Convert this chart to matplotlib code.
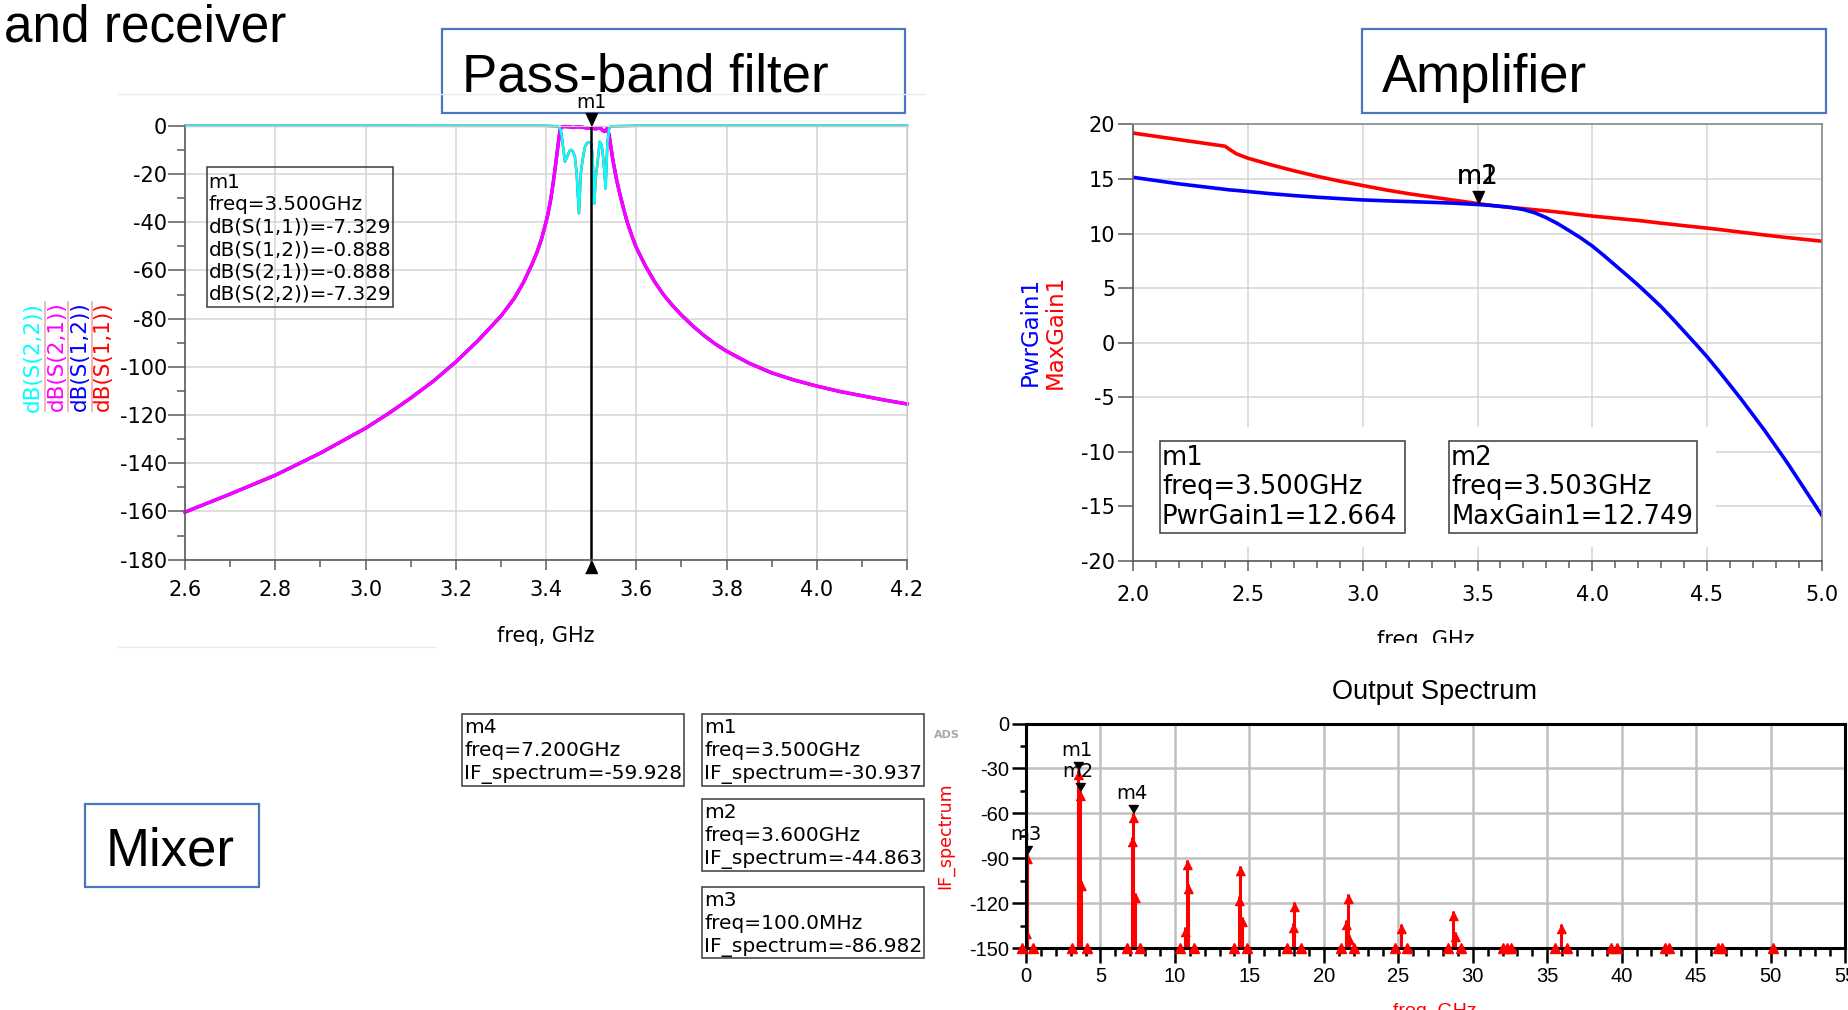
import numpy as np
import matplotlib.pyplot as plt
from matplotlib.patches import Rectangle
from matplotlib.ticker import MultipleLocator

plt.rcParams['axes.unicode_minus'] = False
plt.rcParams['font.family'] = ['DejaVu Sans']

W, H = 1848, 1010
PPT_FONT = ['Liberation Sans', 'DejaVu Sans']

# ---------------- pass-band filter: S-parameters in dB vs freq (GHz)
s21_freq = [2.6, 2.7, 2.8, 2.9, 3.0, 3.05, 3.1, 3.15, 3.2, 3.25, 3.3, 3.33, 3.35, 3.37,
            3.38, 3.39, 3.4, 3.405, 3.41, 3.415, 3.42, 3.424, 3.428, 3.431, 3.434,
            3.44, 3.45, 3.46, 3.47, 3.48, 3.49, 3.5, 3.51, 3.52, 3.525, 3.53, 3.536,
            3.54, 3.544, 3.548, 3.552, 3.556, 3.562, 3.57, 3.58, 3.59, 3.6, 3.62, 3.64,
            3.66, 3.68, 3.7, 3.725, 3.75, 3.775, 3.8, 3.85, 3.9, 3.95, 4.0, 4.05, 4.1,
            4.15, 4.2]
s21_db = [-160.3, -152.8, -145.0, -135.8, -125.5, -119.5, -113.0, -106.0, -98.0, -89.0,
          -79.0, -71.5, -65.0, -57.0, -52.5, -47.0, -40.0, -36.0, -31.0, -25.0, -18.0,
          -12.0, -6.0, -2.0, -0.6, -0.3, -0.4, -0.7, -0.4, -0.6, -0.9, -0.888, -1.3,
          -0.7, -1.8, -2.4, -1.0, -4.0, -9.0, -14.0, -18.0, -22.0, -27.0, -33.0, -40.0,
          -45.5, -50.5, -58.0, -64.5, -70.0, -74.5, -78.5, -83.0, -87.0, -90.5, -93.5,
          -98.5, -102.5, -105.5, -108.0, -110.2, -112.0, -113.8, -115.4]
s12_db = list(s21_db)

s11_freq = [2.6, 3.0, 3.4, 3.425, 3.431, 3.434, 3.438, 3.442, 3.447, 3.452, 3.456, 3.46,
            3.464, 3.468, 3.473, 3.477, 3.481, 3.486, 3.49, 3.495, 3.5, 3.503, 3.507,
            3.51, 3.514, 3.519, 3.522, 3.525, 3.529, 3.532, 3.536, 3.54, 3.545, 3.6, 4.2]
s11_db = [0.0, 0.0, -0.02, -0.2, -1.0, -3.1, -9.0, -14.9, -12.8, -10.5, -10.0, -10.8,
          -12.8, -20.0, -36.3, -20.0, -14.2, -9.0, -7.3, -6.8, -7.329, -12.0, -32.2,
          -22.0, -15.6, -6.6, -7.5, -10.0, -18.0, -26.0, -7.3, -1.0, -0.2, 0.0, 0.0]
s22_db = list(s11_db)

filt_labels = ['dB(S(2,2))', 'dB(S(2,1))', 'dB(S(1,2))', 'dB(S(1,1))']
filt_colors = ['#00ffff', '#ff00ff', '#0000ff', '#ff0000']
filt_m1_freq = 3.5
filt_m1_vals = [('dB(S(1,1))', -7.329), ('dB(S(1,2))', -0.888),
                ('dB(S(2,1))', -0.888), ('dB(S(2,2))', -7.329)]

# ---------------- amplifier gains vs freq (GHz)
amp_freq = [2.0, 2.1, 2.2, 2.3, 2.4, 2.42, 2.45, 2.5, 2.6, 2.7, 2.8, 2.9, 3.0, 3.1, 3.2,
            3.3, 3.4, 3.5, 3.55, 3.6, 3.65, 3.7, 3.75, 3.8, 3.85, 3.9, 3.95, 4.0, 4.05,
            4.1, 4.15, 4.2, 4.25, 4.3, 4.35, 4.4, 4.45, 4.5, 4.55, 4.6, 4.65, 4.7, 4.75,
            4.8, 4.85, 4.9, 4.95, 5.0]
max_gain = [19.2, 18.9, 18.6, 18.3, 18.0, 17.7, 17.3, 16.9, 16.3, 15.75, 15.25, 14.8,
            14.4, 14.0, 13.65, 13.35, 13.05, 12.75, 12.61, 12.48, 12.38, 12.28, 12.18,
            12.08, 11.97, 11.85, 11.72, 11.6, 11.5, 11.4, 11.3, 11.2, 11.08, 10.95,
            10.84, 10.72, 10.61, 10.5, 10.38, 10.25, 10.12, 10.0, 9.87, 9.75, 9.63,
            9.52, 9.41, 9.3]
pwr_gain = [15.15, 14.85, 14.55, 14.3, 14.05, 14.0, 13.95, 13.85, 13.65, 13.48, 13.33,
            13.2, 13.08, 13.0, 12.93, 12.86, 12.78, 12.66, 12.59, 12.5, 12.38, 12.2,
            11.9, 11.45, 10.9, 10.26, 9.6, 8.86, 8.0, 7.1, 6.2, 5.28, 4.3, 3.3, 2.2,
            1.05, -0.1, -1.28, -2.55, -3.87, -5.2, -6.6, -8.0, -9.5, -11.0, -12.6,
            -14.2, -15.8]
amp_m1 = ('m1', 3.500, 'PwrGain1', 12.664)
amp_m2 = ('m2', 3.503, 'MaxGain1', 12.749)

# ---------------- mixer output spectrum (GHz, dB)
tone_freq = [0.0, 0.1, 3.5, 3.6, 3.7, 7.1, 7.2, 7.3, 10.7, 10.8, 10.9, 14.3, 14.4,
             14.5, 17.9, 18.0, 21.5, 21.6, 21.7, 25.2, 28.7, 28.8, 35.9]
tone_level = [-137, -86.982, -30.937, -44.863, -105, -76, -59.928, -113, -136, -91,
              -107, -115, -95, -129, -133, -119, -131, -114, -141, -134, -125, -139, -134]
floor_freq = [-0.25, 0.45, 3.1, 4.1, 6.75, 7.65, 10.35, 11.25, 13.95, 14.85, 17.55,
              18.45, 21.15, 22.05, 24.8, 25.6, 28.35, 29.2, 32.0, 32.3, 32.6, 35.5,
              36.3, 39.3, 39.7, 42.9, 43.2, 46.5, 46.75, 50.15]
spec_markers = [('m4', 7.2, -59.928), ('m1', 3.5, -30.937),
                ('m2', 3.6, -44.863), ('m3', 0.1, -86.982)]

TRI_DOWN = [(-0.5, 1.1), (0.5, 1.1), (0, 0)]
TRI_UP = [(-0.5, -1.1), (0.5, -1.1), (0, 0)]
SPEC_DOWN = [(-0.6, 1.0), (0.6, 1.0), (0, 0)]
ARROW_UP = [(-0.5, -1.0), (0.5, -1.0), (0, 0)]


def rect(x0, y0, x1, y1):
    return [x0 / W, 1 - y1 / H, (x1 - x0) / W, (y1 - y0) / H]


def freq_text(f):
    if f < 1:
        return f'freq={f * 1000:.1f}MHz'
    return f'freq={f:.3f}GHz'


fig = plt.figure(figsize=(W / 100, H / 100), dpi=100)
bg = fig.add_axes([0, 0, 1, 1], zorder=-1)
ov = fig.add_axes([0, 0, 1, 1], zorder=5)
for a in (bg, ov):
    a.set_xlim(0, W)
    a.set_ylim(H, 0)
    a.axis('off')


def readout(x0, y0, x1, y1, lines, base0, step, size, fc='none'):
    ov.add_patch(Rectangle((x0, y0), x1 - x0, y1 - y0, facecolor=fc,
                           edgecolor='#3a3a3a', lw=1.1))
    for i, s in enumerate(lines):
        ov.text(x0 + 2, base0 + i * step, s, fontsize=size, va='baseline', ha='left')


# ---- slide decorations
bg.text(4, 41, 'and receiver', fontsize=37, family=PPT_FONT, va='baseline')
for x0, x1, y0, y1, txt, tx, ty in [(442, 905, 29, 113, 'Pass-band filter', 462, 92),
                                    (1362, 1826, 29, 113, 'Amplifier', 1382, 92),
                                    (85, 259, 804, 887, 'Mixer', 106, 866)]:
    bg.add_patch(Rectangle((x0, y0), x1 - x0, y1 - y0, facecolor='white',
                           edgecolor='#4a76c0', lw=1.6))
    bg.text(tx, ty, txt, fontsize=38, family=PPT_FONT, va='baseline')
bg.plot([118, 925], [94, 94], color='#ececec', lw=1)
bg.plot([118, 436], [647, 647], color='#ececec', lw=1)

# ---- filter plot
ax1 = fig.add_axes(rect(185, 125.8, 907, 559.6))
ax1.plot(s11_freq, s11_db, color=filt_colors[3], lw=1.8, clip_on=False)
ax1.plot(s21_freq, s12_db, color=filt_colors[2], lw=2.4, clip_on=False)
ax1.plot(s21_freq, s21_db, color=filt_colors[1], lw=2.4, clip_on=False)
ax1.plot(s11_freq, s22_db, color=filt_colors[0], lw=1.8, clip_on=False)
ax1.plot([filt_m1_freq, filt_m1_freq], [-180, 0], color='black', lw=1.8)
ax1.plot(filt_m1_freq, 0, marker=TRI_DOWN, ms=18.7, color='black', ls='none', clip_on=False)
ax1.plot(filt_m1_freq, -180, marker=TRI_UP, ms=18.7, color='black', ls='none', clip_on=False)
ax1.annotate('m1', (filt_m1_freq, 0), xytext=(0, 13), textcoords='offset points',
             ha='center', va='baseline', fontsize=13.5, annotation_clip=False)
ax1.set_xlim(2.6, 4.2)
ax1.set_ylim(-180, 0)
ax1.xaxis.set_major_locator(MultipleLocator(0.2))
ax1.xaxis.set_minor_locator(MultipleLocator(0.1))
ax1.yaxis.set_major_locator(MultipleLocator(20))
ax1.yaxis.set_minor_locator(MultipleLocator(10))
ax1.grid(True, which='major', color='#d4d4d4', lw=1.1)
ax1.set_axisbelow(True)
for sp in ax1.spines.values():
    sp.set_color('#c8c8c8')
for sp in ('left', 'bottom'):
    ax1.spines[sp].set_color('#5a5a5a')
    ax1.spines[sp].set_linewidth(1.2)
ax1.tick_params(which='both', direction='out', color='#5a5a5a', width=1.1, labelsize=15)
ax1.tick_params(axis='y', which='major', length=12, pad=1.0)
ax1.tick_params(axis='y', which='minor', length=6)
ax1.tick_params(axis='x', which='major', length=7, pad=8)
ax1.tick_params(axis='x', which='minor', length=5)

readout(206.7, 167.3, 393.3, 307.3,
        ['m1', freq_text(filt_m1_freq)] + [f'{n}={v:.3f}' for n, v in filt_m1_vals],
        187.5, 22.5, 14.3)
for i, (lab, col) in enumerate(zip(filt_labels, filt_colors)):
    ov.text(33.3 + 23.3 * i, 356.6, lab, rotation=90, color=col, fontsize=15.5,
            ha='center', va='center')
    if i < 3:
        ov.plot([45 + 23.3 * i] * 2, [302, 411], color='#f3a0a0', lw=1.1)
ov.text(546, 642, 'freq, GHz', fontsize=15, ha='center', va='baseline')

# ---- amplifier plot
ax2 = fig.add_axes(rect(1133.3, 124.4, 1821.7, 561))
ax2.add_patch(Rectangle((2.0, -18.7), 2.54, 11.0, facecolor='white', edgecolor='none', zorder=1))
ax2.plot(amp_freq, max_gain, color='#ff0000', lw=2.6)
ax2.plot(amp_freq, pwr_gain, color='#0000ff', lw=2.6)
ax2.plot(amp_m1[1], amp_m1[3], marker=TRI_DOWN, ms=18.7, color='black', ls='none')
for m in (amp_m1, amp_m2):
    ax2.annotate(m[0], (amp_m1[1], amp_m1[3]), xytext=(0, 15), textcoords='offset points',
                 ha='center', va='baseline', fontsize=18.5)
ax2.set_xlim(2.0, 5.0)
ax2.set_ylim(-20, 20)
ax2.xaxis.set_major_locator(MultipleLocator(0.5))
ax2.xaxis.set_minor_locator(MultipleLocator(0.1))
ax2.yaxis.set_major_locator(MultipleLocator(5))
ax2.grid(True, which='major', color='#d4d4d4', lw=1.1)
ax2.set_axisbelow(True)
for sp in ax2.spines.values():
    sp.set_color('#8a8a8a')
    sp.set_linewidth(1.2)
for sp in ('left', 'bottom'):
    ax2.spines[sp].set_color('#5a5a5a')
ax2.tick_params(which='both', direction='out', color='#5a5a5a', width=1.1, labelsize=15)
ax2.tick_params(axis='y', which='major', length=11, pad=2)
ax2.tick_params(axis='x', which='major', length=7, pad=10)
ax2.tick_params(axis='x', which='minor', length=5)

for m, (x0, x1) in zip((amp_m1, amp_m2), ((1160, 1405), (1449, 1697))):
    readout(x0, 441, x1, 533, [m[0], freq_text(m[1]), f'{m[2]}={m[3]:.3f}'],
            465, 29.5, 18.6, fc='white')
ov.text(1030, 331, 'PwrGain1', rotation=90, color='#0000ff', fontsize=16.5,
        ha='center', va='center')
ov.text(1055, 332, 'MaxGain1', rotation=90, color='#ff0000', fontsize=16.5,
        ha='center', va='center')
ov.text(1426, 646, 'freq, GHz', fontsize=15, ha='center', va='baseline')
ov.add_patch(Rectangle((1300, 643), 260, 26, facecolor='white', edgecolor='none', zorder=6))

# ---- mixer spectrum
ax3 = fig.add_axes(rect(1026, 723.5, 1845, 948.3))
ax3.vlines(tone_freq, -150, tone_level, color='#ff0000', lw=2.2)
ax3.plot(tone_freq, tone_level, ls='none', marker=ARROW_UP, ms=13, color='#ff0000')
ax3.plot(floor_freq, [-150] * len(floor_freq), ls='none', marker='^', ms=6.5,
         color='#ff0000', clip_on=False, zorder=3)
for name, f, v in spec_markers:
    ax3.plot(f, v, marker=SPEC_DOWN, ms=11.5, color='black', ls='none', zorder=4)
    ax3.annotate(name, (f, v), xytext=(-1, 10.2), textcoords='offset points',
                 ha='center', va='baseline', fontsize=14, annotation_clip=False)
ax3.set_xlim(0, 55)
ax3.set_ylim(-150, 0)
ax3.xaxis.set_major_locator(MultipleLocator(5))
ax3.xaxis.set_minor_locator(MultipleLocator(1))
ax3.yaxis.set_major_locator(MultipleLocator(30))
ax3.yaxis.set_minor_locator(MultipleLocator(15))
ax3.grid(True, which='major', color='#c0c0c0', lw=1.8)
ax3.set_axisbelow(True)
for sp in ax3.spines.values():
    sp.set_color('black')
    sp.set_linewidth(2.2)
ax3.tick_params(which='both', direction='out', color='black', width=1.8)
ax3.tick_params(axis='y', which='major', length=10, pad=2)
ax3.tick_params(axis='y', which='minor', length=4.5)
ax3.tick_params(axis='x', which='major', length=10.8, pad=2.5)
ax3.tick_params(axis='x', which='minor', length=5.5)
for lab in ax3.get_xticklabels() + ax3.get_yticklabels():
    lab.set_fontfamily(PPT_FONT)
    lab.set_fontsize(14.5)

ov.text(1434, 699, 'Output Spectrum', fontsize=19.5, family=PPT_FONT,
        ha='center', va='baseline')
ov.text(945, 835.6, 'IF_spectrum', rotation=90, color='#ff0000', fontsize=12.5,
        ha='center', va='center')
ov.text(1435, 1003, 'freq, GHz', color='#ff0000', fontsize=14, family=PPT_FONT,
        ha='center', va='top')
ov.text(946.7, 734.7, 'ADS', color='#a8a8a8', fontsize=8, fontweight='bold',
        ha='center', va='center')

mk = {n: (f, v) for n, f, v in spec_markers}
for name, x0, x1, y0 in [('m4', 462.3, 684.3, 714.3), ('m1', 702.3, 924, 714.3),
                         ('m2', 702.3, 924, 799.3), ('m3', 702.3, 924, 886.7)]:
    f, v = mk[name]
    readout(x0, y0, x1, y0 + 71.4, [name, freq_text(f), f'IF_spectrum={v:.3f}'],
            y0 + 19, 23, 14.5)

fig.savefig('out.png', dpi=100, facecolor='white')
